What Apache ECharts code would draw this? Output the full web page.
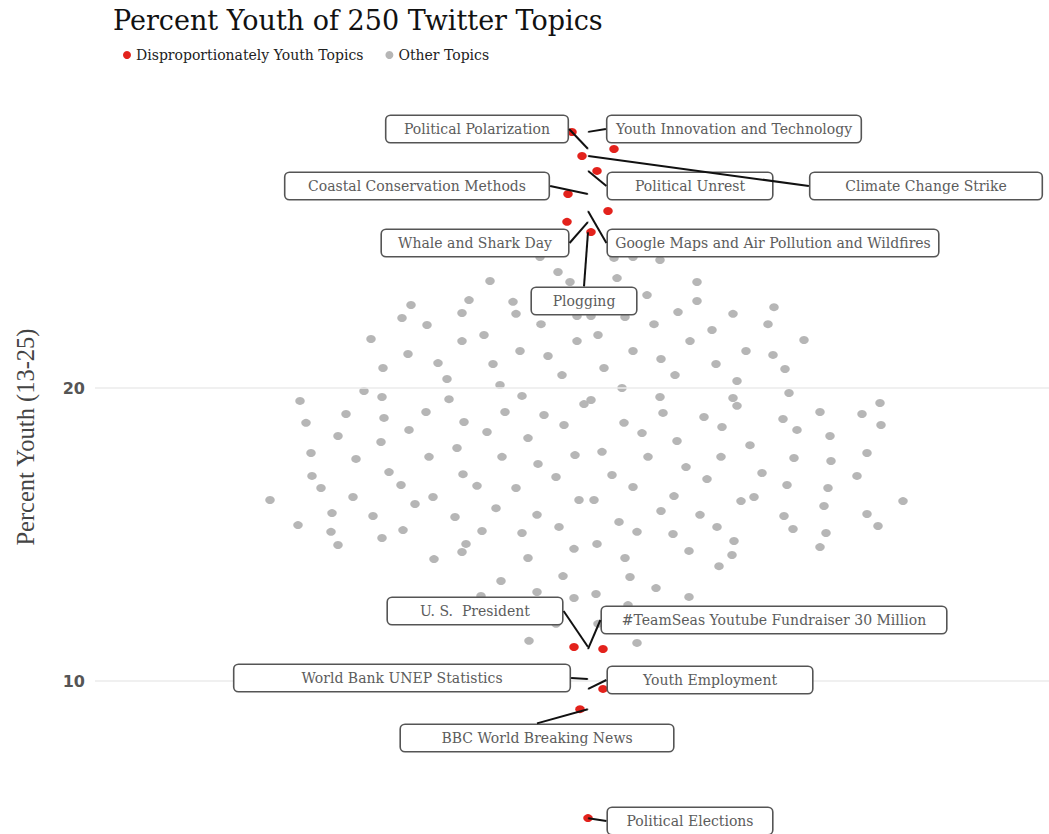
<!DOCTYPE html>
<html>
<head>
<meta charset="utf-8">
<script src="https://cdn.jsdelivr.net/npm/echarts/dist/echarts.min.js"></script>
<style>
html,body{margin:0;padding:0;background:#ffffff;}
#chart{width:1049px;height:834px;}
</style>
</head>
<body>
<div id="chart"></div>
<script>
// ---------------- DATA ----------------
const titleText = 'Percent Youth of 250 Twitter Topics';
const yAxisTitle = 'Percent Youth (13-25)';
const seriesNames = ['Disproportionately Youth Topics', 'Other Topics'];
const yTicks = [10, 20];

const youthTopics = [
  'Political Polarization',
  'Youth Innovation and Technology',
  'Coastal Conservation Methods',
  'Political Unrest',
  'Climate Change Strike',
  'Whale and Shark Day',
  'Google Maps and Air Pollution and Wildfires',
  'Plogging',
  'U. S.  President',
  '#TeamSeas Youtube Fundraiser 30 Million',
  'World Bank UNEP Statistics',
  'Youth Employment',
  'BBC World Breaking News',
  'Political Elections'
];
const youthPct = [28.16, 28.74, 26.62, 27.41, 27.92, 25.67, 26.04, 25.32,
                  11.16, 11.09, 10.07, 9.73, 9.04, 5.32];
const youthJitter = [0.26, -0.16, -0.20, 0.09, -0.06, -0.21, 0.20, 0.03,
                     -0.14, 0.15, 0.34, 0.15, -0.08, 0.00];

const otherJitter = [
  -0.48, 0.45, 0.72, -0.30, -0.98, -0.18, 0.29, 1.09, -1.77, -1.19,
  -0.75, 0.59, 1.09, -1.86, -1.26, -0.72, 0.37, 0.90, -1.61, -0.47,
  0.66, -2.17, -1.26, -1.04, -0.11, 0.10, 1.02, -1.80, -0.68, -0.40,
  0.45, 0.73, -2.05, -1.50, -0.95, 0.16, -0.26, 0.87, -1.41, -0.88,
  0.34, -2.24, -2.88, -2.06, -1.39, -0.66, -0.04, 0.03, 0.72, -2.42,
  -2.04, -1.62, -0.83, -0.44, 0.75, -2.82, -1.79, -1.24, -1.01, -0.24,
  0.36, 0.54, -2.50, -2.07, -0.60, 0.89, 1.45, 1.86, 1.24, 1.80,
  2.16, 1.58, 1.85, 1.28, 1.97, 1.49, 2.01, 1.45, 1.49, 2.92,
  1.16, 2.32, 2.74, 1.95, 1.34, 2.09, 2.93, 2.42, 1.62, 1.33,
  2.06, 2.43, 2.79, 1.19, 1.74, 2.69, 1.99, 2.40, 1.53, 1.66,
  3.15, 2.36, 1.96, 2.79, 1.29, 2.05, 2.38, 2.90, 1.46, 2.32,
  1.44, 1.31, -2.77, -2.32, -1.59, -1.31, -0.86, -0.50, -0.13, 0.14,
  0.60, 0.98, -2.76, -1.99, -1.25, -0.32, 0.24, -2.67, -1.87, -1.11,
  -0.72, 0.45, -3.18, -2.35, -1.55, -1.73, -0.09, 0.06, 0.86, -0.92,
  -2.56, -2.15, -1.33, -0.51, 0.73, 1.12, -2.90, -2.57, -1.85, -1.06,
  -0.66, -0.29, 0.31, 0.49, 0.85, -2.50, -2.06, -1.22, -1.26, -0.14,
  0.09, 1.01, -1.54, -0.60, 0.37, -0.25, 0.42, -0.87, 0.68, -0.51,
  -1.07, -0.14, 0.08, 1.01, 0.40, -0.59, 0.49, -0.11, 0.03, 0.26,
  -0.32, 0.10
];
const otherPct = [
  24.47, 24.47, 24.37, 23.96, 23.65, 23.62, 23.75, 23.62, 22.83, 23.00,
  22.94, 23.17, 22.97, 22.39, 22.56, 22.53, 22.42, 22.59, 22.15, 22.18,
  22.18, 21.67, 21.60, 21.81, 21.60, 21.81, 21.60, 21.16, 21.26, 21.09,
  21.26, 20.99, 20.68, 20.85, 20.82, 20.68, 20.44, 20.44, 20.31, 20.10,
  20.00, 19.90, 19.56, 19.69, 19.62, 19.73, 19.45, 19.59, 19.69, 19.11,
  18.98, 19.18, 19.18, 19.08, 19.15, 18.81, 18.57, 18.84, 18.50, 18.74,
  18.81, 18.46, 18.36, 18.16, 18.29, 18.19, 22.53, 22.76, 21.98, 22.18,
  21.64, 21.26, 21.13, 20.82, 20.65, 20.24, 19.83, 19.66, 19.39, 19.49,
  19.01, 19.18, 19.11, 18.94, 18.67, 18.57, 18.74, 18.36, 18.05, 17.65,
  17.61, 17.51, 17.78, 16.89, 17.10, 17.00, 16.69, 16.59, 16.14, 16.28,
  16.14, 15.97, 15.63, 15.70, 15.26, 15.19, 15.05, 15.29, 14.78, 14.57,
  14.30, 13.92, 17.78, 17.58, 17.65, 17.95, 17.65, 17.41, 17.71, 17.82,
  17.65, 17.30, 17.00, 17.13, 17.06, 16.96, 17.03, 16.59, 16.69, 16.66,
  16.59, 16.62, 16.18, 16.28, 16.28, 16.04, 16.18, 16.18, 16.31, 15.90,
  15.73, 15.63, 15.60, 15.67, 15.80, 15.67, 15.32, 15.09, 15.15, 15.12,
  15.05, 15.26, 15.43, 15.09, 15.02, 14.64, 14.88, 14.68, 14.40, 14.51,
  14.68, 14.44, 14.16, 14.20, 14.20, 13.58, 13.55, 13.41, 13.17, 13.04,
  12.90, 12.83, 12.97, 12.87, 12.59, 11.37, 11.30, 22.46, 22.46, 24.44,
  11.95, 11.95
];

// ---------------- LAYOUT (label boxes: centre x, centre y, box width) ----------------
const labelBox = {
  'Political Polarization': [477, 129, 183],
  'Youth Innovation and Technology': [734, 129, 255],
  'Coastal Conservation Methods': [417, 186, 265],
  'Political Unrest': [690, 186, 166],
  'Climate Change Strike': [926, 186, 233],
  'Whale and Shark Day': [475, 243, 188],
  'Google Maps and Air Pollution and Wildfires': [773, 243, 332],
  'Plogging': [584, 301, 106],
  'U. S.  President': [475, 611, 176],
  '#TeamSeas Youtube Fundraiser 30 Million': [774, 620, 346],
  'World Bank UNEP Statistics': [402, 678, 337],
  'Youth Employment': [710, 680, 206],
  'BBC World Breaking News': [537, 738, 274],
  'Political Elections': [690, 821, 166]
};
const serif = 'DejaVu Serif';

const labelData = youthTopics.map((n, i) => ({
  name: n, value: [0, youthPct[i]],
  label: {width: labelBox[n][2] - 14}
}));
const labelPlace = function (p) {
  const b = labelBox[youthTopics[p.dataIndex]];
  return {x: b[0], y: b[1], align: 'center', verticalAlign: 'middle', hideOverlap: false};
};
const labelBase = {
  show: true, formatter: '{b}', opacity: 1,
  fontFamily: serif, fontSize: 14, lineHeight: 16,
  borderWidth: 1.6, borderRadius: 4,
  padding: [5, 6], align: 'center', verticalAlign: 'middle'
};

const chart = echarts.init(document.getElementById('chart'), null, {renderer: 'svg'});

const option = {
  backgroundColor: '#ffffff',
  animation: false,
  title: {
    text: titleText,
    left: 113,
    top: 7,
    padding: 0,
    textStyle: {fontFamily: serif, fontSize: 27, fontWeight: 'normal', color: '#111111'}
  },
  legend: {
    data: seriesNames,
    left: 118,
    top: 43,
    icon: 'circle',
    itemWidth: 8,
    itemHeight: 8,
    itemGap: 22,
    textStyle: {fontFamily: serif, fontSize: 14, color: '#222222'}
  },
  grid: {left: 95, right: 0, top: 95, bottom: 6.5, containLabel: false, outerBoundsMode: 'none'},
  xAxis: {type: 'value', min: -4.93, max: 4.61, show: false},
  yAxis: {
    type: 'value', min: 5, max: 30, interval: 5,
    axisLine: {show: false}, axisTick: {show: false}, splitLine: {show: false},
    axisLabel: {
      margin: 10,
      formatter: v => (yTicks.indexOf(v) >= 0 ? String(v) : ''),
      color: '#555555', fontFamily: 'DejaVu Sans', fontWeight: 'bold', fontSize: 16
    }
  },
  graphic: [{
    type: 'text', x: 25, y: 437, rotation: Math.PI / 2, silent: true,
    style: {text: yAxisTitle, font: '24.5px "Liberation Serif"', fill: '#444444', align: 'center', verticalAlign: 'middle'}
  }],
  series: [
    {
      name: 'gridlines', type: 'scatter', data: [], z: 0, silent: true,
      markLine: {
        silent: true, symbol: 'none', label: {show: false}, animation: false,
        lineStyle: {color: '#ebebeb', width: 1.5, type: 'solid'},
        data: yTicks.map(v => ({yAxis: v}))
      }
    },
    {
      name: seriesNames[1], type: 'scatter', symbolSize: [9.5, 8], z: 2,
      itemStyle: {color: '#b6b6b6', opacity: 1},
      emphasis: {disabled: true},
      data: otherJitter.map((j, i) => [j, otherPct[i]])
    },
    {
      name: seriesNames[0], type: 'scatter', symbolSize: [9.5, 8], z: 3,
      itemStyle: {color: '#e3221c', opacity: 1},
      emphasis: {disabled: true},
      data: youthJitter.map((j, i) => ({name: youthTopics[i], value: [j, youthPct[i]]}))
    },
    {
      // label boxes
      name: 'labelBoxes', type: 'scatter', symbolSize: 0.5, z: 5, silent: true,
      itemStyle: {color: '#111111', opacity: 1},
      emphasis: {disabled: true},
      data: labelData,
      label: Object.assign({}, labelBase, {color: '#5c5c5c', backgroundColor: '#ffffff', borderColor: '#555555'}),
      labelLayout: labelPlace
    },
    {
      // leader segments, drawn above all boxes
      name: 'labelLines', type: 'scatter', symbolSize: 0.5, z: 6, silent: true,
      itemStyle: {color: '#111111', opacity: 1},
      emphasis: {disabled: true},
      data: labelData,
      label: Object.assign({}, labelBase, {color: 'rgba(0,0,0,0)', backgroundColor: 'rgba(0,0,0,0)', borderColor: 'rgba(0,0,0,0)'}),
      labelLine: {show: true, lineStyle: {color: '#111111', width: 2, opacity: 1}},
      labelLayout: labelPlace
    }
  ]
};
chart.setOption(option);
</script>
</body>
</html>
